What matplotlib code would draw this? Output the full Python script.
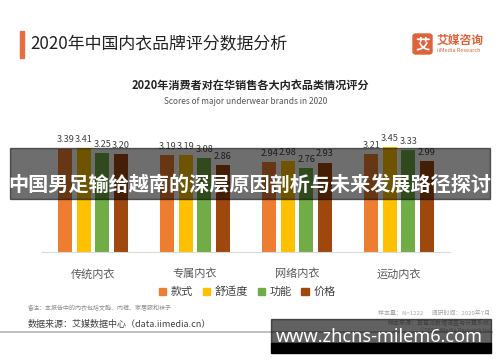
import matplotlib
matplotlib.use("Agg")
import matplotlib.pyplot as plt
from matplotlib.patches import Rectangle, FancyBboxPatch, Patch

plt.rcParams['font.family'] = ['Noto Sans CJK SC', 'DejaVu Sans']

categories = ['传统内衣', '专属内衣', '网络内衣', '运动内衣']
series_names = ['款式', '舒适度', '功能', '价格']
style_scores = [3.39, 3.19, 2.94, 3.21]
comfort_scores = [3.41, 3.19, 2.98, 3.45]
function_scores = [3.25, 3.08, 2.76, 3.33]
price_scores = [3.20, 2.86, 2.93, 2.99]
colors = ['#ED7D31', '#FFC000', '#70AD47', '#9E480E']

W, H = 500, 362


def fx(px):
    return px / W


def fy(py):
    # pixel measured from top -> figure fraction
    return 1 - py / H


fig = plt.figure(figsize=(5, 3.62), dpi=100)
fig.patch.set_facecolor('white')

# header
fig.patches.append(Rectangle((fx(20), fy(58)), fx(4), 27 / H, color='#E8703F',
                             transform=fig.transFigure, zorder=2))
fig.text(fx(30), fy(44), '2020年中国内衣品牌评分数据分析', fontsize=12.2,
         color='#222222', va='center', ha='left', weight='medium')

# logo
fig.patches.append(FancyBboxPatch((fx(413), fy(54)), fx(19), 20 / H,
                                  boxstyle='round,pad=0,rounding_size=0.006',
                                  color='#E0623A', transform=fig.transFigure))
fig.text(fx(422.5), fy(43.5), '艾', fontsize=10.5, color='white',
         weight='bold', ha='center', va='center')
fig.text(fx(437), fy(40), '艾媒咨询', fontsize=8.5, color='#E0623A',
         weight='bold', ha='left', va='center')
fig.text(fx(437), fy(50.5), 'iiMedia Research', fontsize=4, color='#E0623A',
         ha='left', va='center')

# chart titles
fig.text(0.5, fy(85), '2020年消费者对在华销售各大内衣品类情况评分', fontsize=8,
         weight='bold', color='#222222', ha='center', va='center')
fig.text(0.492, fy(102), 'Scores of major underwear brands in 2020', fontsize=6,
         color='#555555', ha='center', va='center')

# bars
ax = fig.add_axes([fx(42), fy(252), fx(408), 122 / H])
series = [style_scores, comfort_scores, function_scores, price_scores]
x = list(range(len(categories)))
step = 0.181
width = 0.137
for i, (vals, name, c) in enumerate(zip(series, series_names, colors)):
    pos = [xi + (i - 1.5) * step for xi in x]
    bars = ax.bar(pos, vals, width=width, color=c, label=name)
    ax.bar_label(bars, labels=['%.2f' % v for v in vals], padding=3,
                 fontsize=6.6, color='#404040')

ax.set_xlim(-0.5, 3.5)
ax.set_ylim(0, 4)
ax.set_yticks([])
ax.set_xticks(x)
ax.set_xticklabels(categories, fontsize=8, color='#595959')
ax.tick_params(axis='x', length=0, pad=12)
for s in ['top', 'right', 'left']:
    ax.spines[s].set_visible(False)
ax.spines['bottom'].set_color('#D9D9D9')
ax.spines['bottom'].set_linewidth(0.8)
ax.set_facecolor('none')

handles = [Patch(color=c, label=n) for c, n in zip(colors, series_names)]
fig.legend(handles=handles, loc='center', bbox_to_anchor=(0.494, fy(292)),
           ncol=4, frameon=False, fontsize=8, handlelength=0.7,
           handleheight=0.7, columnspacing=0.9, handletextpad=0.35,
           labelcolor='#404040')

# footer
fig.text(fx(28), fy(308), '备注：本报告中的内衣包括文胸、内裤、家居服和袜子',
         fontsize=4.3, color='#8C8C8C', ha='left', va='center')
fig.text(fx(28), fy(324), '数据来源：艾媒数据中心（data.iimedia.cn）',
         fontsize=6.5, color='#404040', ha='left', va='center')
fig.text(fx(490), fy(313), '样本量：N=1222      调研时间：2020年7月',
         fontsize=4.3, color='#A6A6A6', ha='right', va='center')
fig.text(fx(490), fy(323), '样本来源：草莓派数据调查与计算系统',
         fontsize=4.3, color='#A6A6A6', ha='right', va='center')
fig.text(fx(490), fy(331), '©2020 iiMedia Research Inc',
         fontsize=4, color='#A6A6A6', ha='right', va='center')
fig.add_artist(plt.Line2D([0, fx(492)], [fy(332), fy(332)], color='#B5B5B5',
                          linewidth=1.2, transform=fig.transFigure))

# overlay banner
fig.patches.append(Rectangle((fx(10), fy(199)), fx(480), 51 / H, color='black',
                             alpha=0.57, transform=fig.transFigure, zorder=10))
fig.text(0.5, fy(184), '中国男足输给越南的深层原因剖析与未来发展路径探讨',
         fontsize=14.5, weight='bold', color='white', ha='center',
         va='center', zorder=11)

# watermark box
fig.patches.append(Rectangle((fx(271), fy(343)), fx(220), 24 / H, color='black',
                             alpha=0.62, transform=fig.transFigure, zorder=10))
fig.patches.append(Rectangle((fx(271), fy(353)), fx(220), 10 / H, color='black',
                             transform=fig.transFigure, zorder=10))
fig.text(fx(379), fy(337), 'www.zhcns-milem6.com', fontsize=13, weight='bold',
         color='white', ha='center', va='center', zorder=11,
         family=['Noto Sans', 'DejaVu Sans'])

fig.savefig('out.png', dpi=100)
